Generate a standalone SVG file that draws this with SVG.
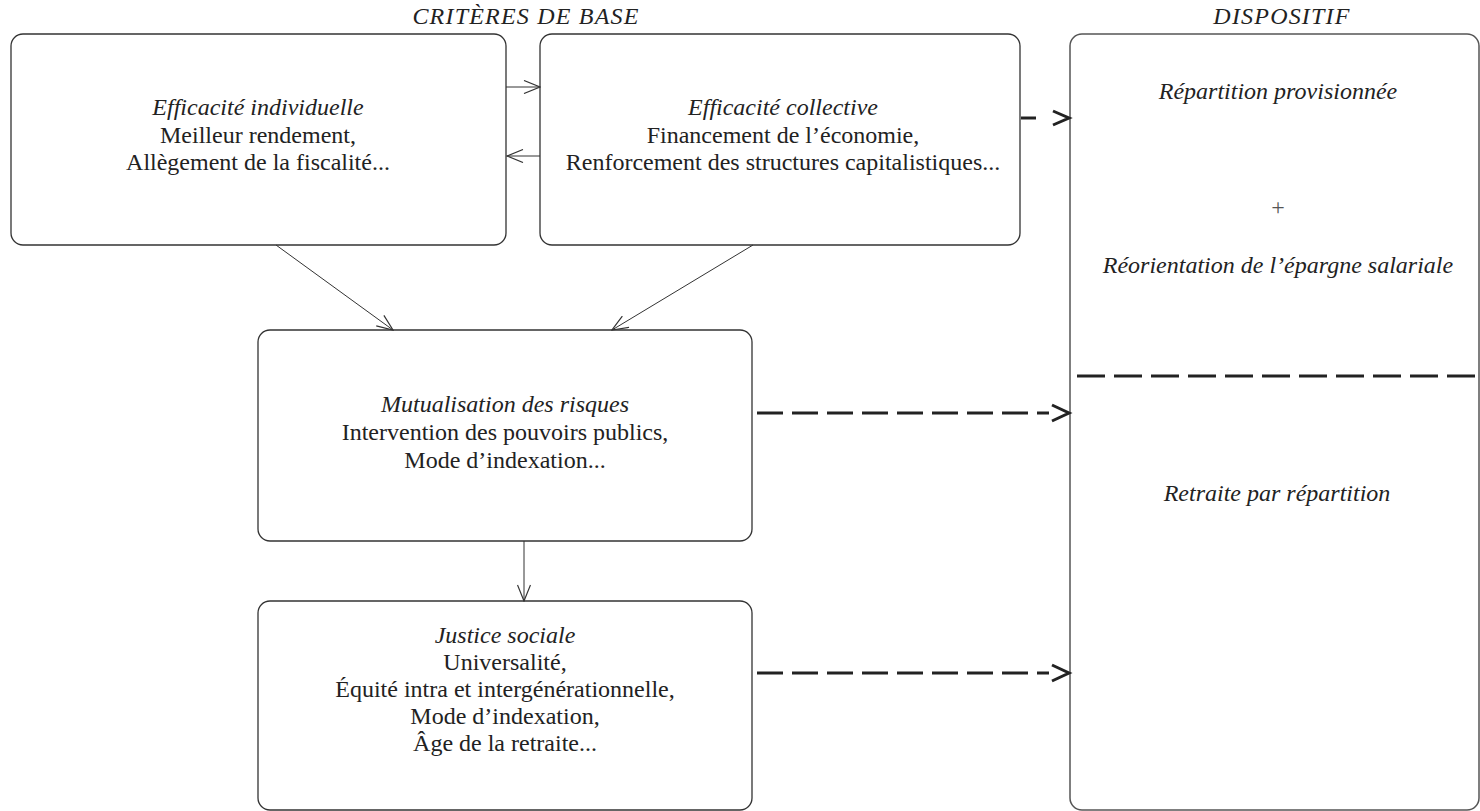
<svg xmlns="http://www.w3.org/2000/svg" width="1480" height="811" viewBox="0 0 1480 811">
  <style>
    .box { fill: #ffffff; stroke: #333333; stroke-width: 1.3; }
    .rbox { fill: #ffffff; stroke: #555555; stroke-width: 1.5; }
    .t { font-family: "Liberation Serif", "Times New Roman", "DejaVu Serif", serif; font-size: 24px; fill: #222222; text-anchor: middle; }
    .it { font-style: italic; }
    .hdr { font-family: "Liberation Serif", "Times New Roman", "DejaVu Serif", serif; font-size: 24px; font-style: italic; fill: #222222; text-anchor: middle; letter-spacing: 1.2px; }
    .thin { fill: none; stroke: #333333; stroke-width: 1; }
    .dash { fill: none; stroke: #222222; stroke-width: 3; stroke-dasharray: 26 9; }
    .dashsep { fill: none; stroke: #222222; stroke-width: 3; stroke-dasharray: 28 9; }
    .head { fill: none; stroke: #222222; stroke-width: 3; stroke-linejoin: miter; }
  </style>
  <defs>
    <marker id="open" viewBox="0 0 18 14" refX="17" refY="7" markerWidth="18" markerHeight="14" markerUnits="userSpaceOnUse" orient="auto">
      <path d="M1,0.5 L17,7 L1,13.5" fill="none" stroke="#333333" stroke-width="1.2"/>
    </marker>
  </defs>

  <rect width="1480" height="811" fill="#ffffff"/>

  <text class="hdr" x="526" y="24">CRITÈRES DE BASE</text>
  <text class="hdr" x="1282" y="24">DISPOSITIF</text>

  <g id="node-efficacite-individuelle">
    <rect class="box" x="11" y="34" width="495" height="211" rx="12"/>
    <text class="t it" x="258" y="115">Efficacité individuelle</text>
    <text class="t" x="258" y="143">Meilleur rendement,</text>
    <text class="t" x="258" y="170">Allègement de la fiscalité...</text>
  </g>

  <g id="node-efficacite-collective">
    <rect class="box" x="540" y="34" width="480" height="211" rx="12"/>
    <text class="t it" x="783" y="115">Efficacité collective</text>
    <text class="t" x="783" y="143">Financement de l’économie,</text>
    <text class="t" x="783" y="170">Renforcement des structures capitalistiques...</text>
  </g>

  <g id="node-mutualisation">
    <rect class="box" x="258" y="330" width="494" height="211" rx="12"/>
    <text class="t it" x="505" y="412">Mutualisation des risques</text>
    <text class="t" x="505" y="440">Intervention des pouvoirs publics,</text>
    <text class="t" x="505" y="468">Mode d’indexation...</text>
  </g>

  <g id="node-justice-sociale">
    <rect class="box" x="258" y="601" width="494" height="209" rx="12"/>
    <text class="t it" x="505" y="643">Justice sociale</text>
    <text class="t" x="505" y="670">Universalité,</text>
    <text class="t" x="505" y="697">Équité intra et intergénérationnelle,</text>
    <text class="t" x="505" y="724">Mode d’indexation,</text>
    <text class="t" x="505" y="751">Âge de la retraite...</text>
  </g>

  <g id="node-dispositif">
    <rect class="rbox" x="1070" y="34" width="409" height="776" rx="12"/>
    <text class="t it" x="1278" y="99">Répartition provisionnée</text>
    <text class="t" x="1278" y="215" style="fill:#555555">+</text>
    <text class="t it" x="1278" y="273">Réorientation de l’épargne salariale</text>
    <path class="dashsep" d="M1077,376 H1480"/>
    <text class="t it" x="1277" y="501">Retraite par répartition</text>
  </g>

  <g id="connectors">
    <path class="thin" d="M506,87 H540" marker-end="url(#open)"/>
    <path class="thin" d="M540,156 H507" marker-end="url(#open)"/>
    <path class="thin" d="M276,245 L393,330" marker-end="url(#open)"/>
    <path class="thin" d="M753,245 L612,330" marker-end="url(#open)"/>
    <path class="thin" d="M524,541 V601" marker-end="url(#open)"/>

    <path class="dash" d="M1021,118 H1036"/>
    <path class="head" d="M1053,111 L1069,118 L1053,125"/>

    <path class="dash" d="M757,413 H1049"/>
    <path class="head" d="M1052,405 L1069,413 L1052,421"/>

    <path class="dash" d="M757,673 H1049"/>
    <path class="head" d="M1052,665 L1069,673 L1052,681"/>
  </g>
</svg>
